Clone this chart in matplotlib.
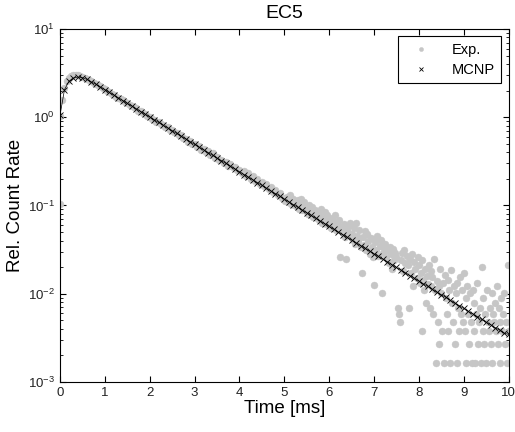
import numpy as np
import matplotlib
matplotlib.use('Agg')
import matplotlib.pyplot as plt

plt.rcParams['font.family'] = ['Liberation Sans', 'DejaVu Sans']

# MCNP simulation, every 0.1 ms
mcnp_t = np.round(np.arange(0, 10.001, 0.1), 3)
mcnp_y = [1.05, 2.05, 2.55, 2.78, 2.85, 2.80, 2.68, 2.50, 2.36, 2.20,
          2.05, 1.91, 1.778, 1.656, 1.542, 1.435, 1.337, 1.245, 1.159, 1.079,
          1.005, 0.935, 0.871, 0.811, 0.755, 0.703, 0.655, 0.610, 0.568, 0.528,
          0.492, 0.458, 0.427, 0.397, 0.370, 0.344, 0.321, 0.299, 0.278, 0.259,
          0.241, 0.224, 0.209, 0.195, 0.181, 0.169, 0.157, 0.146, 0.136, 0.127,
          0.118, 0.110, 0.102, 0.0953, 0.0887, 0.0826, 0.0769, 0.0716, 0.0667, 0.0621,
          0.0578, 0.0538, 0.0501, 0.0467, 0.0435, 0.0405, 0.0377, 0.0351, 0.0327, 0.0304,
          0.0283, 0.0264, 0.0245, 0.0229, 0.0213, 0.0198, 0.0185, 0.0172, 0.0160, 0.0149,
          0.0139, 0.0129, 0.0121, 0.0112, 0.0104, 0.0097, 0.0091, 0.0084, 0.0078, 0.0073,
          0.0068, 0.0063, 0.0059, 0.0055, 0.0051, 0.00475, 0.00445, 0.00412, 0.00386, 0.00357,
          0.00345]

# experiment, 0 - 5 ms
exp_t_a = np.round(np.arange(0, 4.999, 0.05), 4)
exp_y_a = [1.02, 1.55, 2.15, 2.55, 2.78, 2.92, 3.00, 3.02, 2.99, 2.95,
           2.88, 2.80, 2.74, 2.64, 2.56, 2.47, 2.40, 2.29, 2.23, 2.13,
           2.08, 1.97, 1.93, 1.84, 1.79, 1.71, 1.67, 1.60, 1.56, 1.48,
           1.45, 1.39, 1.34, 1.29, 1.26, 1.19, 1.17, 1.11, 1.09, 1.04,
           1.01, 0.96, 0.94, 0.89, 0.88, 0.83, 0.82, 0.77, 0.77, 0.72,
           0.71, 0.68, 0.66, 0.62, 0.62, 0.58, 0.57, 0.53, 0.54, 0.50,
           0.50, 0.46, 0.47, 0.43, 0.44, 0.40, 0.41, 0.37, 0.39, 0.345,
           0.355, 0.33, 0.325, 0.30, 0.31, 0.28, 0.295, 0.27, 0.275, 0.25,
           0.255, 0.235, 0.245, 0.215, 0.23, 0.20, 0.215, 0.19, 0.20, 0.175,
           0.185, 0.165, 0.175, 0.152, 0.16, 0.142, 0.15, 0.131, 0.14, 0.122]

# experiment, 5 - 7.5 ms
exp_t_b = np.round(np.arange(5.0, 7.499, 0.025), 4)
exp_y_b = [0.121, 0.112, 0.125, 0.108, 0.116, 0.131, 0.104, 0.113, 0.119, 0.102,
           0.106, 0.097, 0.115, 0.092, 0.101, 0.118, 0.089, 0.096, 0.108, 0.087,
           0.091, 0.079, 0.102, 0.084, 0.077, 0.095, 0.073, 0.088, 0.081, 0.072,
           0.083, 0.068, 0.075, 0.091, 0.064, 0.071, 0.085, 0.062, 0.077, 0.066,
           0.061, 0.072, 0.055, 0.066, 0.059, 0.078, 0.052, 0.063, 0.057, 0.068,
           0.026, 0.055, 0.049, 0.061, 0.044, 0.025, 0.052, 0.058, 0.047, 0.063,
           0.048, 0.041, 0.056, 0.037, 0.063, 0.045, 0.039, 0.052, 0.034, 0.017,
           0.044, 0.036, 0.051, 0.031, 0.047, 0.039, 0.028, 0.043, 0.034, 0.026,
           0.0126, 0.038, 0.031, 0.045, 0.027, 0.035, 0.041, 0.0102, 0.029, 0.033,
           0.037, 0.026, 0.031, 0.022, 0.034, 0.028, 0.019, 0.032, 0.024, 0.029]

# experiment, 7.5 - 8 ms
exp_t_c = np.round(np.arange(7.5, 7.999, 0.025), 4)
exp_y_c = [0.026, 0.0068, 0.0059, 0.0048, 0.024, 0.029, 0.018, 0.031, 0.022, 0.027,
           0.021, 0.0068, 0.025, 0.017, 0.028, 0.0121, 0.023, 0.019, 0.015, 0.026]

# experiment, 8 - 10 ms (counts are quantised here)
exp_t_d = np.round(np.arange(8.0, 10.001, 0.02), 4)
exp_y_d = [0.021, 0.0132, 0.017, 0.00373, 0.024, 0.0142, 0.0111, 0.019, 0.00793, 0.016,
           0.013, 0.021, 0.00688, 0.018, 0.0121, 0.0153, 0.00583, 0.025, 0.0111, 0.00163,
           0.014, 0.00478, 0.0121, 0.00268, 0.019, 0.0103, 0.00373, 0.0132, 0.00163, 0.0163,
           0.00898, 0.00583, 0.0142, 0.00373, 0.0111, 0.00163, 0.0186, 0.00793, 0.00478, 0.0121,
           0.00268, 0.0103, 0.00163, 0.0132, 0.00688, 0.00373, 0.0153, 0.00583, 0.0111, 0.00478,
           0.0171, 0.00373, 0.00898, 0.00163, 0.0121, 0.00583, 0.00268, 0.0103, 0.00478, 0.00163,
           0.0111, 0.00373, 0.00793, 0.00163, 0.00583, 0.0132, 0.00268, 0.00478, 0.00688, 0.00163,
           0.0203, 0.00373, 0.00898, 0.00268, 0.00583, 0.00163, 0.0111, 0.00478, 0.00373, 0.00688,
           0.00268, 0.0103, 0.00163, 0.00583, 0.00478, 0.00793, 0.00373, 0.0121, 0.00268, 0.00688,
           0.00478, 0.00163, 0.00898, 0.00373, 0.00583, 0.0103, 0.00268, 0.00478, 0.00163, 0.0211,
           0.00373]

exp_extra_t = [0.0]
exp_extra_y = [0.105]

exp_t = np.concatenate([exp_t_a, exp_t_b, exp_t_c, exp_t_d, exp_extra_t])
exp_y = np.concatenate([exp_y_a, exp_y_b, exp_y_c, exp_y_d, exp_extra_y])

fig = plt.figure(figsize=(5.15, 4.32), dpi=100)
ax = fig.add_axes([0.1165, 0.116, 0.871, 0.817])

gray = '#c6c6c6'
ax.plot(exp_t, exp_y, linestyle='none', marker='o', ms=5.0, mfc=gray, mec=gray,
        mew=0.3, label='Exp.')
ax.plot(mcnp_t, mcnp_y, '-', color='k', lw=0.5)
ax.plot(mcnp_t, mcnp_y, linestyle='none', marker='x', ms=4.2, mew=0.6, color='k',
        label='MCNP')

ax.set_yscale('log')
ax.set_xlim(0, 10)
ax.set_ylim(1e-3, 1e1)
ax.set_xticks(range(0, 11))
ax.tick_params(which='both', direction='in', top=True, right=True,
               labelsize=9.5, colors='k', labelcolor='#222222')
ax.tick_params(which='major', length=4)
ax.tick_params(which='minor', length=2)
for s in ax.spines.values():
    s.set_linewidth(0.8)

ax.set_title('EC5', fontsize=14, pad=8)
ax.set_xlabel('Time [ms]', fontsize=13.5, labelpad=1)
ax.set_ylabel('Rel. Count Rate', fontsize=13.5, labelpad=3)

leg = ax.legend(loc='upper right', fontsize=10.5, fancybox=False, edgecolor='k',
                framealpha=1, handlelength=2.2, borderaxespad=0.5, markerscale=0.6,
                handletextpad=1.0, borderpad=0.45, labelspacing=0.4)
leg.get_frame().set_linewidth(0.8)

fig.savefig('out.png', dpi=100)
